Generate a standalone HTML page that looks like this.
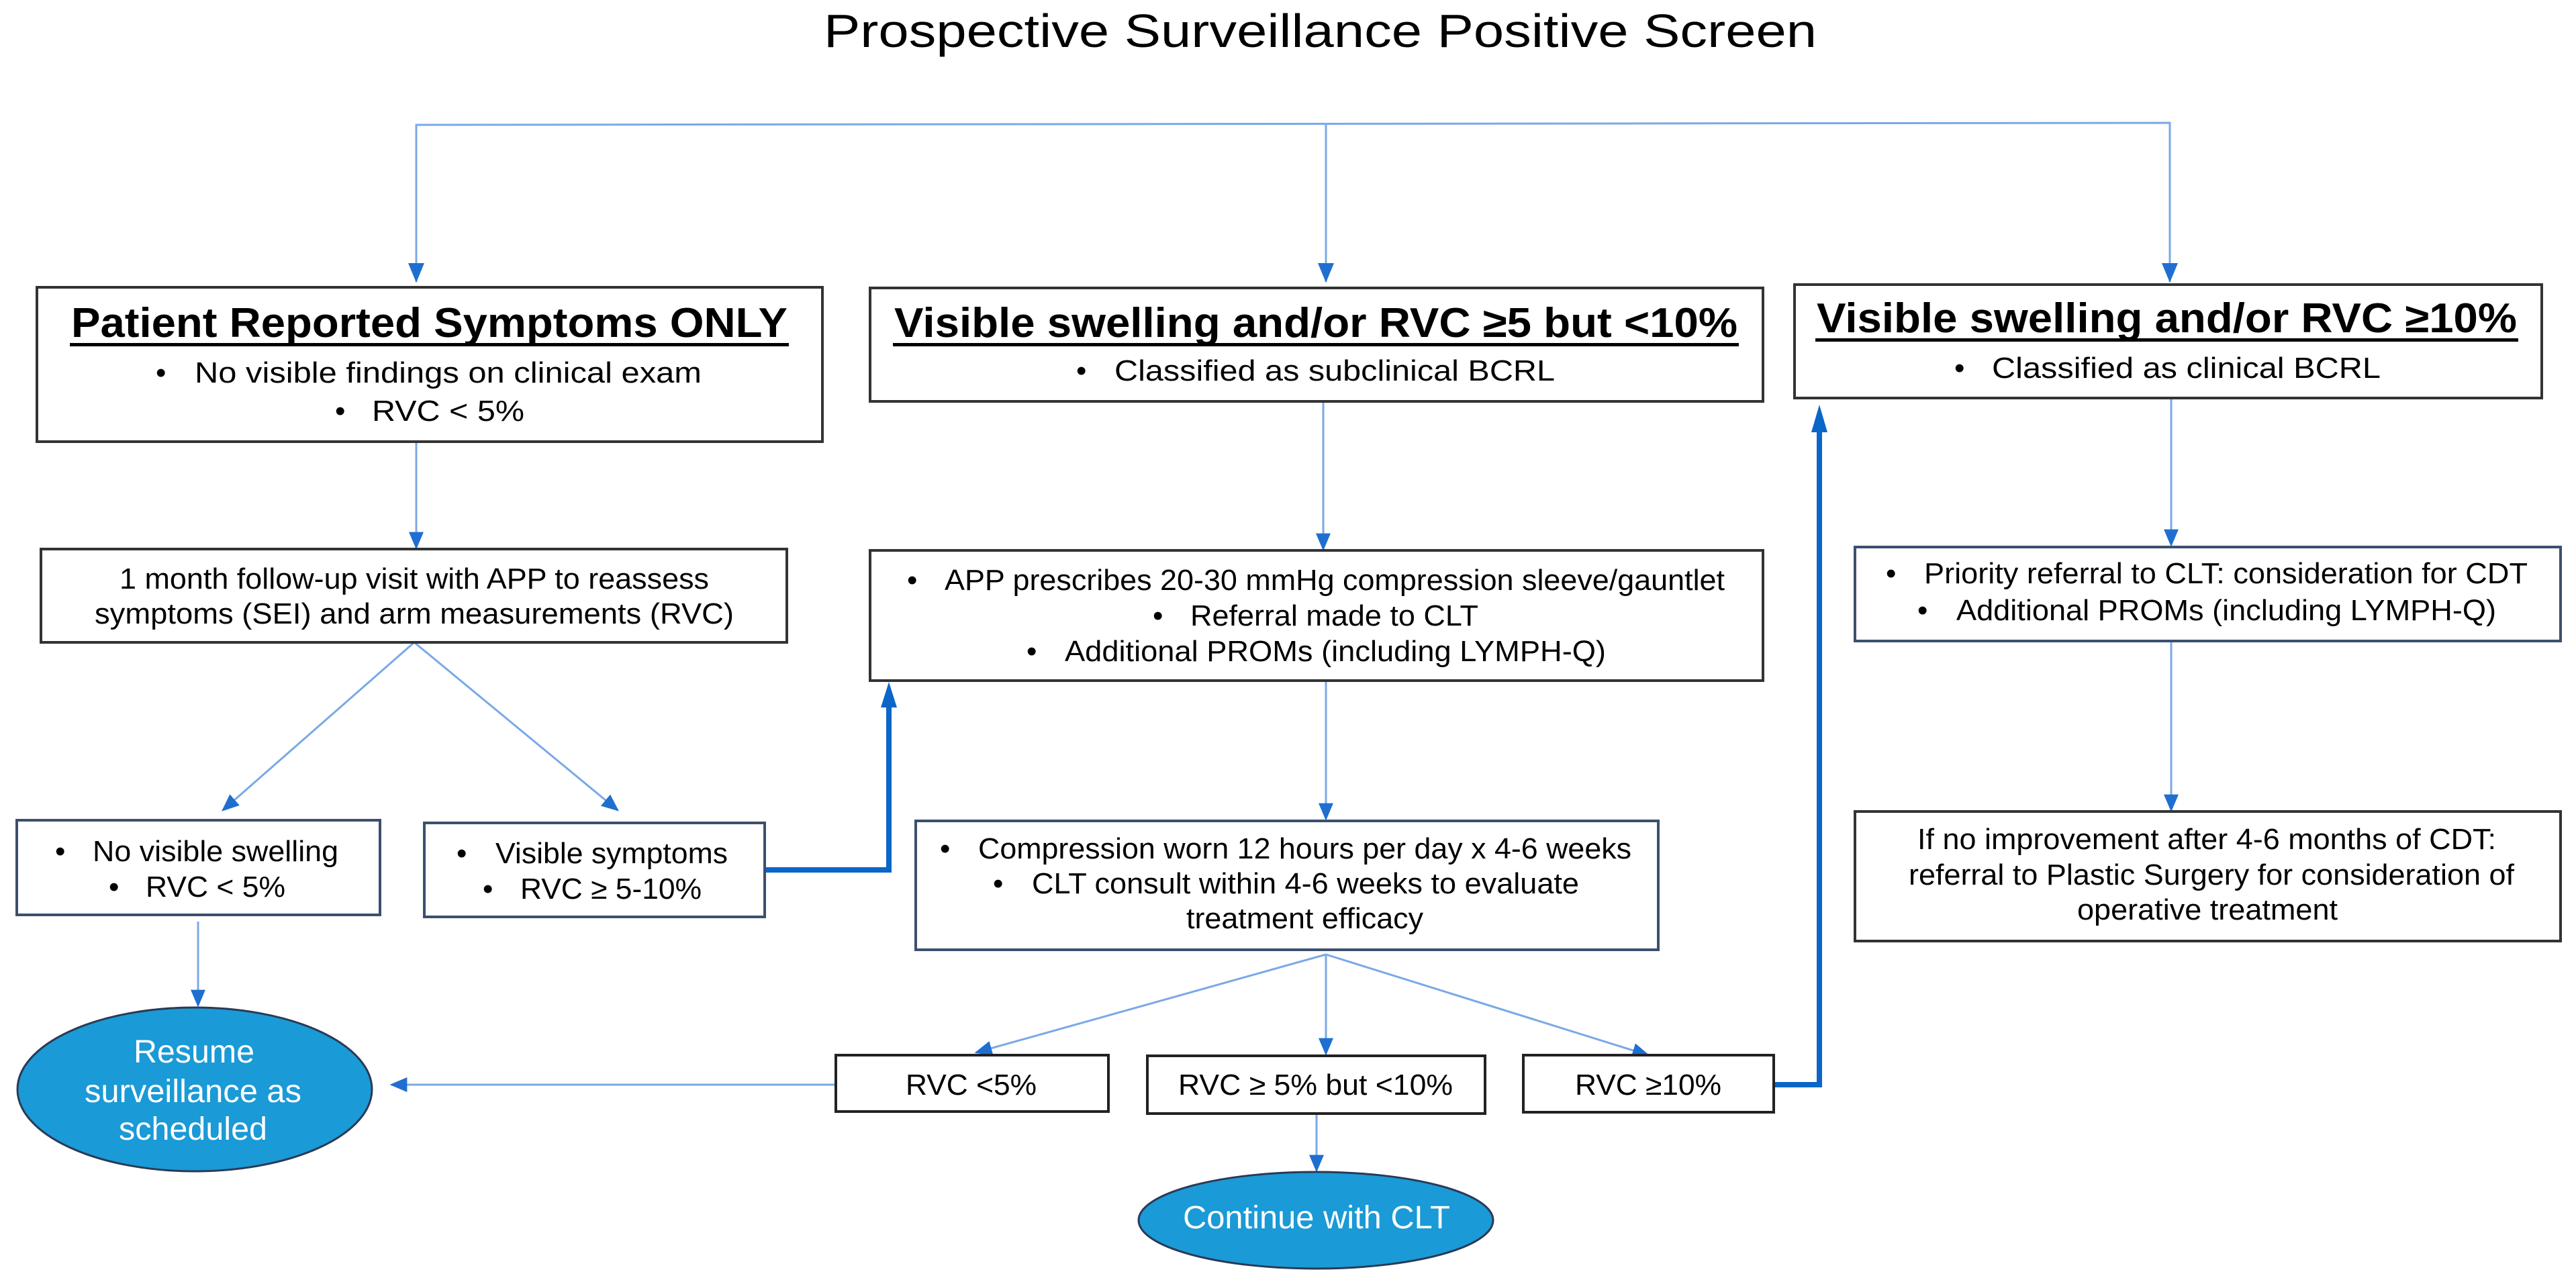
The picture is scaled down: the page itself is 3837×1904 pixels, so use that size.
<!DOCTYPE html>
<html><head><meta charset="utf-8"><style>html,body{margin:0;padding:0;background:#fff}svg{display:block}</style></head>
<body>
<svg width="3837" height="1904" viewBox="0 0 3837 1904" xmlns="http://www.w3.org/2000/svg" font-family="'Liberation Sans', Arial, sans-serif">
<defs>
<marker id="b" viewBox="0 0 10 10" refX="9" refY="5" markerWidth="26" markerHeight="22" markerUnits="userSpaceOnUse" orient="auto" preserveAspectRatio="none"><path d="M0,0 L10,5 L0,10 z" fill="#1f6fd1"/></marker>
</defs>

<!-- title -->
<text x="1227" y="70" font-size="70" textLength="1479" lengthAdjust="spacingAndGlyphs">Prospective Surveillance Positive Screen</text>

<!-- connectors (thin) -->
<g stroke="#7aa9e6" stroke-width="3" fill="none">
<polyline points="620,420 620,186 3232,183 3232,420"/>
<line x1="1975" y1="186" x2="1975" y2="420"/>
<line x1="620" y1="658" x2="620" y2="816" marker-end="url(#b)"/>
<line x1="617" y1="957" x2="332" y2="1207" marker-end="url(#b)"/>
<line x1="617" y1="957" x2="920" y2="1207" marker-end="url(#b)"/>
<line x1="295" y1="1373" x2="295" y2="1498" marker-end="url(#b)"/>
<line x1="1971" y1="598" x2="1971" y2="818" marker-end="url(#b)"/>
<line x1="1975" y1="1014" x2="1975" y2="1220" marker-end="url(#b)"/>
<line x1="1975" y1="1422" x2="1454" y2="1568" marker-end="url(#b)"/>
<line x1="1975" y1="1422" x2="1975" y2="1570" marker-end="url(#b)"/>
<line x1="1975" y1="1422" x2="2455" y2="1572" marker-end="url(#b)"/>
<line x1="1961" y1="1659" x2="1961" y2="1744" marker-end="url(#b)"/>
<line x1="3234" y1="593" x2="3234" y2="812" marker-end="url(#b)"/>
<line x1="3234" y1="955" x2="3234" y2="1207" marker-end="url(#b)"/>
<line x1="1245" y1="1616" x2="583" y2="1616" marker-end="url(#b)"/>
</g>
<g fill="#1f6fd1">
<path d="M608,392 L632,392 L620,421 z"/>
<path d="M1963,392 L1987,392 L1975,421 z"/>
<path d="M3220,392 L3244,392 L3232,421 z"/>
</g>

<!-- thick connectors -->
<g stroke="#0a66c8" stroke-width="8" fill="none">
<polyline points="1139,1296 1324,1296 1324,1050"/>
<polyline points="2642,1616 2710,1616 2710,640"/>
</g>
<g fill="#0a66c8">
<path d="M1312,1054 L1336,1054 L1324,1016 z"/>
<path d="M2698,644 L2722,644 L2710,603 z"/>
</g>

<!-- boxes -->
<g fill="#fff" stroke-width="4">
<rect x="55" y="428" width="1170" height="230" stroke="#333"/>
<rect x="61" y="818" width="1111" height="139" stroke="#333"/>
<rect x="25" y="1222" width="541" height="141" stroke="#3c4f6e"/>
<rect x="632" y="1226" width="507" height="140" stroke="#3c4f6e"/>
<rect x="1296" y="429" width="1330" height="169" stroke="#333"/>
<rect x="1296" y="820" width="1330" height="194" stroke="#333"/>
<rect x="1364" y="1223" width="1106" height="192" stroke="#3c4f6e"/>
<rect x="1245" y="1572" width="406" height="84" stroke="#222"/>
<rect x="1709" y="1573" width="503" height="86" stroke="#222"/>
<rect x="2269" y="1572" width="373" height="85" stroke="#222"/>
<rect x="2673" y="424" width="1113" height="169" stroke="#333"/>
<rect x="2763" y="815" width="1051" height="140" stroke="#3c4f6e"/>
<rect x="2763" y="1209" width="1051" height="193" stroke="#333"/>
</g>
<g fill="#1a9ad6" stroke="#2a3a55" stroke-width="3">
<ellipse cx="290" cy="1623" rx="264" ry="122"/>
<ellipse cx="1960" cy="1818" rx="264" ry="72"/>
</g>

<!-- header texts -->
<g font-weight="bold" font-size="62" fill="#000">
<text x="106" y="502" textLength="1067" lengthAdjust="spacingAndGlyphs">Patient Reported Symptoms ONLY</text>
<rect x="104" y="511" width="1071" height="5"/>
<text x="1332" y="502" textLength="1256" lengthAdjust="spacingAndGlyphs">Visible swelling and/or RVC ≥5 but &lt;10%</text>
<rect x="1330" y="511" width="1260" height="5"/>
<text x="2706" y="495" textLength="1043" lengthAdjust="spacingAndGlyphs">Visible swelling and/or RVC ≥10%</text>
<rect x="2704" y="504" width="1047" height="5"/>
</g>

<!-- body texts -->
<g font-size="44" fill="#000">
<text x="232" y="570">•</text><text x="290" y="570" textLength="755" lengthAdjust="spacingAndGlyphs">No visible findings on clinical exam</text>
<text x="499" y="627">•</text><text x="554" y="627" textLength="227" lengthAdjust="spacingAndGlyphs">RVC &lt; 5%</text>

<text x="178" y="877" textLength="878" lengthAdjust="spacingAndGlyphs">1 month follow-up visit with APP to reassess</text>
<text x="141" y="929" textLength="952" lengthAdjust="spacingAndGlyphs">symptoms (SEI) and arm measurements  (RVC)</text>

<text x="82" y="1283">•</text><text x="138" y="1283" textLength="366" lengthAdjust="spacingAndGlyphs">No visible swelling</text>
<text x="162" y="1336">•</text><text x="217" y="1336" textLength="208" lengthAdjust="spacingAndGlyphs">RVC &lt; 5%</text>

<text x="680" y="1286">•</text><text x="738" y="1286" textLength="346" lengthAdjust="spacingAndGlyphs">Visible symptoms</text>
<text x="719" y="1339">•</text><text x="775" y="1339" textLength="270" lengthAdjust="spacingAndGlyphs">RVC ≥ 5-10%</text>

<text x="1603" y="567">•</text><text x="1660" y="567" textLength="656" lengthAdjust="spacingAndGlyphs">Classified as subclinical BCRL</text>

<text x="1351" y="879">•</text><text x="1407" y="879" textLength="1162" lengthAdjust="spacingAndGlyphs">APP prescribes 20-30 mmHg compression sleeve/gauntlet</text>
<text x="1717" y="932">•</text><text x="1773" y="932" textLength="429" lengthAdjust="spacingAndGlyphs">Referral made to CLT</text>
<text x="1529" y="985">•</text><text x="1586" y="985" textLength="806" lengthAdjust="spacingAndGlyphs">Additional PROMs (including LYMPH-Q)</text>

<text x="1400" y="1279">•</text><text x="1457" y="1279" textLength="973" lengthAdjust="spacingAndGlyphs">Compression worn 12 hours per day x 4-6 weeks</text>
<text x="1479" y="1331">•</text><text x="1537" y="1331" textLength="815" lengthAdjust="spacingAndGlyphs">CLT consult within 4-6 weeks to evaluate</text>
<text x="1767" y="1383" textLength="353" lengthAdjust="spacingAndGlyphs">treatment efficacy</text>

<text x="1349" y="1631" textLength="195" lengthAdjust="spacingAndGlyphs">RVC &lt;5%</text>
<text x="1755" y="1631" textLength="409" lengthAdjust="spacingAndGlyphs">RVC ≥ 5% but &lt;10%</text>
<text x="2346" y="1631" textLength="218" lengthAdjust="spacingAndGlyphs">RVC ≥10%</text>

<text x="2911" y="563">•</text><text x="2967" y="563" textLength="579" lengthAdjust="spacingAndGlyphs">Classified as clinical BCRL</text>

<text x="2809" y="869">•</text><text x="2866" y="869" textLength="899" lengthAdjust="spacingAndGlyphs">Priority referral to CLT: consideration for CDT</text>
<text x="2856" y="924">•</text><text x="2914" y="924" textLength="804" lengthAdjust="spacingAndGlyphs">Additional PROMs (including LYMPH-Q)</text>

<text x="2856" y="1265" textLength="862" lengthAdjust="spacingAndGlyphs">If no improvement after 4-6 months of CDT:</text>
<text x="2843" y="1318" textLength="902" lengthAdjust="spacingAndGlyphs">referral to Plastic Surgery for consideration of</text>
<text x="3094" y="1370" textLength="388" lengthAdjust="spacingAndGlyphs">operative treatment</text>
</g>

<g font-size="48" fill="#fff">
<text x="199" y="1583" textLength="180" lengthAdjust="spacingAndGlyphs">Resume</text>
<text x="126" y="1642" textLength="323" lengthAdjust="spacingAndGlyphs">surveillance as</text>
<text x="177" y="1698" textLength="221" lengthAdjust="spacingAndGlyphs">scheduled</text>
<text x="1762" y="1830" textLength="398" lengthAdjust="spacingAndGlyphs">Continue with CLT</text>
</g>
</svg>
</body></html>
